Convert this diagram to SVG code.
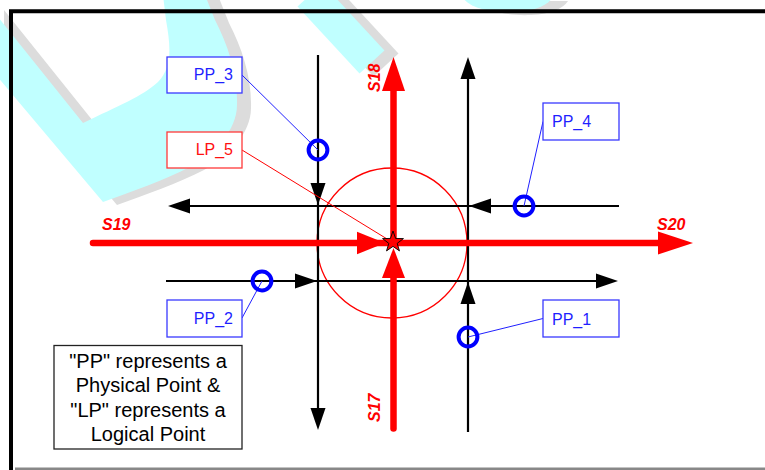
<svg xmlns="http://www.w3.org/2000/svg" width="765" height="470" viewBox="0 0 765 470">
<style>
.cy{fill:#c0ffff}
.gr{fill:#dcdcdc}
.blk{stroke:#000;stroke-width:2.2;fill:none}
.ah{fill:#000}
.red{stroke:#ff0000;stroke-width:6.5;fill:none}
.rah{fill:#ff0000}
.ring{fill:none;stroke:#0000ff;stroke-width:4}
.bbox{fill:#fff;stroke:#3a3aff;stroke-width:1.3}
.rbox{fill:#fff;stroke:#ff3a3a;stroke-width:1.3}
.bt{font-family:"Liberation Sans",Arial,sans-serif;font-size:16px;fill:#1f1fff}
.rt{font-family:"Liberation Sans",Arial,sans-serif;font-size:16px;fill:#ff1010}
.st{font-family:"Liberation Sans",Arial,sans-serif;font-size:16px;font-weight:bold;font-style:italic;fill:#ff0000}
.lt{font-family:"Liberation Sans",Arial,sans-serif;font-size:20px;fill:#000;text-anchor:middle}
.bl{stroke:#2020ff;stroke-width:1}
.rl{stroke:#ff0000;stroke-width:1}
</style>
<defs>
<path id="wm1" d="M163,-5 L166,20 C171,48 172,68 158,82 C143,96 118,106 83,123 L-10,7 L-10,68 L103,202 C130,192 165,180 190,167 C215,153 237,130 237,105 C238,75 228,45 215,20 L205,-5 Z"/>
<path id="wm3" d="M463,-2 C470,8 490,13 515,12 C535,11 548,5 552,-2 Z"/>
</defs>
<rect width="765" height="470" fill="#fff"/>
<g id="watermark">
<use href="#wm1" class="gr" transform="translate(14,3)"/>
<use href="#wm1" class="cy"/>
<line x1="324" y1="-2" x2="386" y2="65" stroke="#dcdcdc" stroke-width="34"/>
<line x1="310" y1="-5" x2="372" y2="62" stroke="#c0ffff" stroke-width="34"/>
<use href="#wm3" class="gr" transform="translate(16,3)"/>
<use href="#wm3" class="cy"/>
</g>
<g id="frame">
<path d="M11,470 L11,11.3 L765,11.3" fill="none" stroke="#000" stroke-width="4"/>
<line x1="15" y1="469" x2="765" y2="469" stroke="#888" stroke-width="3"/>
</g>
<g id="lp5-zone">
<circle cx="392" cy="243" r="75" fill="none" stroke="#ff0000" stroke-width="1.3"/>
</g>
<g id="connectors">
<line class="blk" x1="318" y1="55" x2="318" y2="410"/>
<line class="blk" x1="468" y1="432" x2="468" y2="77"/>
<line class="blk" x1="619" y1="206" x2="188" y2="206"/>
<line class="blk" x1="166" y1="281" x2="598" y2="281"/>
<polygon class="ah" points="318,430 310.5,408 325.5,408"/>
<polygon class="ah" points="318,205 310.5,183 325.5,183"/>
<polygon class="ah" points="468,57 460.5,79 475.5,79"/>
<polygon class="ah" points="468,282 460.5,304 475.5,304"/>
<polygon class="ah" points="168,206 190,198.5 190,213.5"/>
<polygon class="ah" points="469,206 491,198.5 491,213.5"/>
<polygon class="ah" points="618,281 596,273.5 596,288.5"/>
<polygon class="ah" points="317,281 295,273.5 295,288.5"/>
<line class="red" x1="93" y1="243" x2="360" y2="243" stroke-linecap="round"/>
<line class="red" x1="370" y1="243" x2="661" y2="243"/>
<line class="red" x1="393.5" y1="246" x2="393.5" y2="88"/>
<line class="red" x1="393.5" y1="428.5" x2="393.5" y2="275" stroke-linecap="round"/>
<polygon class="rah" points="385,243 357,231.7 357,254.3"/>
<polygon class="rah" points="693,243 658,231.5 658,254.5"/>
<polygon class="rah" points="393.5,57 382,91 405,91"/>
<polygon class="rah" points="393.5,248 382,278 405,278"/>
<line class="bl" x1="242" y1="75" x2="318" y2="150"/>
<line class="rl" x1="242" y1="150" x2="392" y2="242"/>
<line class="bl" x1="242" y1="318" x2="262" y2="281"/>
<line class="bl" x1="543" y1="121.5" x2="524" y2="206"/>
<line class="bl" x1="543" y1="318.5" x2="468" y2="337"/>
</g>
<g id="track-labels">
<text class="st" x="102" y="230">S19</text>
<text class="st" x="657" y="230">S20</text>
<text class="st" transform="translate(380,92) rotate(-90)">S18</text>
<text class="st" transform="translate(380,422) rotate(-90)">S17</text>
</g>
<g id="LP_5-point">
<polygon points="393,231 395.59,238.44 403.46,238.6 397.18,243.36 399.47,250.9 393,246.4 386.53,250.9 388.82,243.36 382.54,238.6 390.41,238.44" fill="#ff0000" stroke="#000" stroke-width="0.9"/>
</g>
<g id="PP_3-point"><circle class="ring" cx="318" cy="150" r="9.4"/></g>
<g id="PP_4-point"><circle class="ring" cx="524" cy="206" r="9.4"/></g>
<g id="PP_2-point"><circle class="ring" cx="262" cy="281" r="9.4"/></g>
<g id="PP_1-point"><circle class="ring" cx="468" cy="337" r="9.4"/></g>
<g id="PP_3-label">
<rect class="bbox" x="167" y="57" width="75" height="36"/>
<text class="bt" x="233" y="80" text-anchor="end">PP_3</text>
</g>
<g id="LP_5-label">
<rect class="rbox" x="167" y="132" width="75" height="36"/>
<text class="rt" x="233" y="155" text-anchor="end">LP_5</text>
</g>
<g id="PP_2-label">
<rect class="bbox" x="167" y="300" width="75" height="37"/>
<text class="bt" x="233" y="324" text-anchor="end">PP_2</text>
</g>
<g id="PP_4-label">
<rect class="bbox" x="543" y="103" width="76" height="37"/>
<text class="bt" x="552" y="127">PP_4</text>
</g>
<g id="PP_1-label">
<rect class="bbox" x="543" y="300" width="76" height="37"/>
<text class="bt" x="552" y="325">PP_1</text>
</g>
<g id="legend">
<rect x="54" y="345.5" width="188" height="103.5" fill="#fff" stroke="#222" stroke-width="1.3"/>
<text class="lt" x="148" y="368">"PP" represents a</text>
<text class="lt" x="148" y="392">Physical Point &amp;</text>
<text class="lt" x="148" y="416.5">"LP" represents a</text>
<text class="lt" x="148" y="440.5">Logical Point</text>
</g>
</svg>
